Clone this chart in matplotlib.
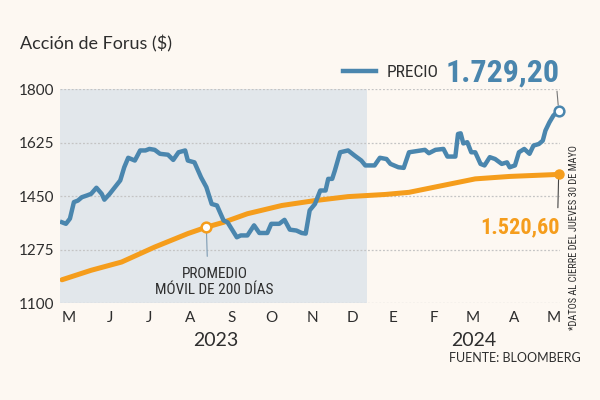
"""Forus share price vs 200-day moving average, May 2023 - May 2024."""

import matplotlib

matplotlib.use("Agg")
import matplotlib.pyplot as plt  # noqa: E402
import pandas as pd  # noqa: E402
from matplotlib import font_manager  # noqa: E402

# --- data ---
price_dates = [
    "2023-05-10", "2023-05-13", "2023-05-16", "2023-05-19", "2023-05-22", "2023-05-25",
    "2023-05-29", "2023-06-01", "2023-06-05", "2023-06-09", "2023-06-11", "2023-06-15",
    "2023-06-19", "2023-06-23", "2023-06-26", "2023-06-29", "2023-07-04", "2023-07-08",
    "2023-07-12", "2023-07-15", "2023-07-19", "2023-07-23", "2023-07-29", "2023-08-02",
    "2023-08-06", "2023-08-11", "2023-08-13", "2023-08-18", "2023-08-23", "2023-08-27",
    "2023-08-31", "2023-09-04", "2023-09-09", "2023-09-12", "2023-09-19", "2023-09-22",
    "2023-09-27", "2023-10-02", "2023-10-06", "2023-10-12", "2023-10-15", "2023-10-21",
    "2023-10-25", "2023-10-29", "2023-11-03", "2023-11-07", "2023-11-10", "2023-11-13",
    "2023-11-17", "2023-11-21", "2023-11-25", "2023-11-27", "2023-11-30", "2023-12-02",
    "2023-12-06", "2023-12-12", "2023-12-17", "2023-12-22", "2023-12-25", "2024-01-01",
    "2024-01-05", "2024-01-10", "2024-01-13", "2024-01-19", "2024-01-23", "2024-01-27",
    "2024-02-08", "2024-02-11", "2024-02-16", "2024-02-22", "2024-02-25", "2024-03-02",
    "2024-03-04", "2024-03-06", "2024-03-08", "2024-03-11", "2024-03-14", "2024-03-17",
    "2024-03-21", "2024-03-24", "2024-03-28", "2024-04-01", "2024-04-06", "2024-04-10",
    "2024-04-12", "2024-04-16", "2024-04-19", "2024-04-23", "2024-04-27", "2024-04-30",
    "2024-05-04", "2024-05-07", "2024-05-09", "2024-05-12", "2024-05-15", "2024-05-19",
]
price_values = [
    1364, 1359, 1376, 1430, 1435, 1446,
    1452, 1457, 1477, 1457, 1438, 1457,
    1479, 1501, 1544, 1575, 1566, 1599,
    1599, 1604, 1601, 1588, 1585, 1568,
    1593, 1599, 1566, 1560, 1511, 1479,
    1424, 1419, 1370, 1364, 1315, 1321,
    1321, 1354, 1329, 1329, 1359, 1359,
    1372, 1340, 1337, 1329, 1327, 1403,
    1424, 1468, 1468, 1506, 1506, 1533,
    1593, 1599, 1582, 1566, 1550, 1550,
    1575, 1571, 1555, 1544, 1542, 1593,
    1601, 1590, 1601, 1604, 1579, 1579,
    1653, 1655, 1622, 1626, 1593, 1593,
    1555, 1550, 1577, 1571, 1555, 1560,
    1544, 1550, 1593, 1604, 1588, 1615,
    1620, 1631, 1664, 1691, 1713, 1729.2,
]

ma_dates = [
    "2023-05-10", "2023-06-01", "2023-06-24", "2023-07-19", "2023-08-13", "2023-08-27",
    "2023-09-09", "2023-09-27", "2023-10-23", "2023-11-17", "2023-12-12", "2024-01-09",
    "2024-01-27", "2024-02-21", "2024-03-17", "2024-04-12", "2024-05-19",
]
ma_values = [
    1176, 1207, 1234, 1283, 1327, 1348,
    1364, 1392, 1419, 1435, 1448, 1455,
    1462, 1484, 1506, 1514, 1520.6,
]
ma_callout_date = "2023-08-27"

month_labels = ["M", "J", "J", "A", "S", "O", "N", "D", "E", "F", "M", "A", "M"]
month_ticks = pd.date_range("2023-05-01", periods=13, freq="MS") + pd.Timedelta(days=14)
y_ticks = [1100, 1275, 1450, 1625, 1800]

# --- styling ---
BG = "#fdf8f2"
SHADE = "#e2e7eb"
BLUE = "#4a86ae"
ORANGE = "#f59d1c"
DARK = "#2e2e2e"

# pick a narrow face for the display numbers if one is installed
installed = {f.name for f in font_manager.fontManager.ttflist}
narrow = next((n for n in ["Liberation Sans Narrow", "DejaVu Sans Condensed",
                           "Roboto Condensed", "Open Sans Condensed"] if n in installed), None)
if narrow:
    NARROW = [narrow, "DejaVu Sans"]
    big_size, mid_size, lab_size, leg_size, note_size = 23, 16, 11, 12.5, 7.5
else:
    NARROW = ["Lato", "DejaVu Sans"]
    big_size, mid_size, lab_size, leg_size, note_size = 20, 14, 9.5, 10.5, 6.2
plt.rcParams["font.family"] = ["Lato", "DejaVu Sans"]

px = pd.to_datetime(price_dates)
mx = pd.to_datetime(ma_dates)

fig = plt.figure(figsize=(6, 4), dpi=100, facecolor=BG)
ax = fig.add_axes([60 / 600, 1 - 303 / 400, 500 / 600, 214 / 400])
ax.set_facecolor(BG)

ax.axvspan(pd.Timestamp("2023-05-01"), pd.Timestamp("2023-12-26"), color=SHADE, lw=0, zorder=0)
for y in y_ticks:
    ax.axhline(y, color="#c4c4c4", lw=0.9, ls=(0, (1.5, 1.5)), zorder=1)

(price_line,) = ax.plot(px, price_values, color=BLUE, lw=3.2, solid_joinstyle="round",
                        label="PRECIO", zorder=3)
ax.plot(mx, ma_values, color=ORANGE, lw=3.6, solid_capstyle="round", zorder=2)

ax.set_xlim(pd.Timestamp("2023-05-08 12:00"), pd.Timestamp("2024-05-20"))
ax.set_ylim(y_ticks[0], y_ticks[-1])
ax.set_yticks(y_ticks)
ax.set_yticklabels([str(v) for v in y_ticks])
ax.set_xticks(month_ticks)
ax.set_xticklabels(month_labels)
ax.tick_params(length=0, labelsize=11, colors=DARK)
ax.tick_params(axis="x", pad=6)
ax.tick_params(axis="y", pad=4)
for s in ax.spines.values():
    s.set_visible(False)

# end markers and values
ax.plot(px[-1], price_values[-1], "o", ms=7, mfc="white", mec=BLUE, mew=1.8, zorder=5,
        clip_on=False)
ax.annotate("1.729,20", xy=(px[-1], price_values[-1]), xytext=(1, 17),
            textcoords="offset points", ha="right", va="bottom", color=BLUE,
            fontsize=big_size, fontweight="bold", family=NARROW, annotation_clip=False,
            arrowprops=dict(arrowstyle="-", color="#777777", lw=0.8,
                            relpos=(0.97, 0), shrinkA=1, shrinkB=4))
ax.plot(mx[-1], ma_values[-1], "o", ms=6.5, color=ORANGE, zorder=5, clip_on=False)
ax.annotate("1.520,60", xy=(mx[-1], ma_values[-1]), xytext=(1, -30),
            textcoords="offset points", ha="right", va="top", color=ORANGE,
            fontsize=mid_size, fontweight="bold", family=NARROW,
            arrowprops=dict(arrowstyle="-", color="#444444", lw=0.8,
                            relpos=(0.97, 1), shrinkA=4, shrinkB=3))

# moving-average callout
ci = ma_dates.index(ma_callout_date)
ax.plot(mx[ci], ma_values[ci], "o", ms=7, mfc="white", mec=ORANGE, mew=1.8, zorder=5)
ax.annotate("PROMEDIO\nMÓVIL DE 200 DÍAS", xy=(mx[ci], ma_values[ci]), xytext=(6, -29),
            textcoords="offset points", ha="center", va="top", color=DARK,
            fontsize=lab_size, family=NARROW, linespacing=1.15,
            arrowprops=dict(arrowstyle="-", color="#7d9bb3", lw=0.8,
                            relpos=(0.44, 1), shrinkA=6, shrinkB=4))

ax.legend(handles=[price_line], loc="center left", bbox_to_anchor=(343 / 600, 1 - 72 / 400),
          bbox_transform=fig.transFigure, frameon=False, handlelength=1.9,
          handletextpad=0.6, borderpad=0, borderaxespad=0,
          prop={"family": NARROW, "size": leg_size}, labelcolor=DARK)

fig.text(20 / 600, 1 - 44 / 400, "Acción de Forus ($)", ha="left", va="center",
         fontsize=13, color=DARK)
fig.text(216 / 600, 1 - 340 / 400, "2023", ha="center", va="center", fontsize=14, color=DARK)
fig.text(474 / 600, 1 - 340 / 400, "2024", ha="center", va="center", fontsize=14, color=DARK)
fig.text(581 / 600, 1 - 358 / 400, "FUENTE: BLOOMBERG", ha="right", va="center",
         fontsize=9, color=DARK)
fig.text(574 / 600, 1 - 238 / 400, "*DATOS AL CIERRE DEL JUEVES 30 DE MAYO", rotation=90,
         ha="center", va="center", fontsize=note_size, family=NARROW, color=DARK)

fig.savefig("out.png", dpi=100, facecolor=BG)
plt.close(fig)
